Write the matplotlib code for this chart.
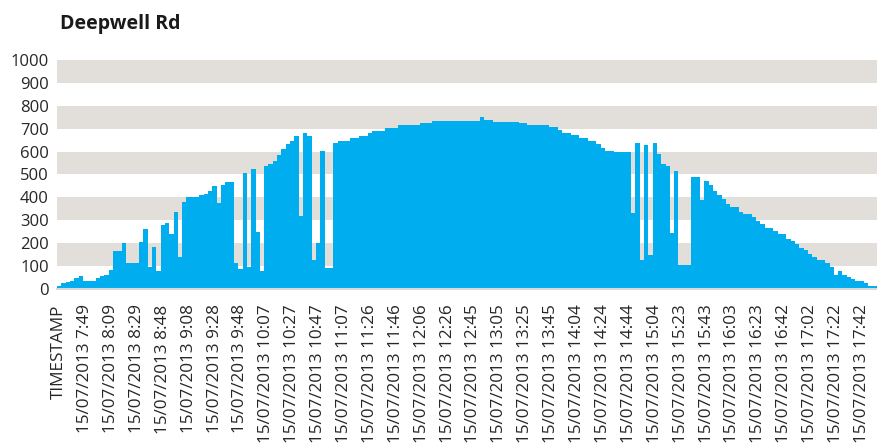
import numpy as np
import matplotlib
matplotlib.use('Agg')
import matplotlib.pyplot as plt

plt.rcParams['font.family'] = ['Open Sans', 'DejaVu Sans']

title = 'Deepwell Rd'

# tick labels, one every 6 readings (first category is the header row)
tick_labels = ['TIMESTAMP',
               '15/07/2013 7:49', '15/07/2013 8:09', '15/07/2013 8:29', '15/07/2013 8:48',
               '15/07/2013 9:08', '15/07/2013 9:28', '15/07/2013 9:48', '15/07/2013 10:07',
               '15/07/2013 10:27', '15/07/2013 10:47', '15/07/2013 11:07', '15/07/2013 11:26',
               '15/07/2013 11:46', '15/07/2013 12:06', '15/07/2013 12:26', '15/07/2013 12:45',
               '15/07/2013 13:05', '15/07/2013 13:25', '15/07/2013 13:45', '15/07/2013 14:04',
               '15/07/2013 14:24', '15/07/2013 14:44', '15/07/2013 15:04', '15/07/2013 15:23',
               '15/07/2013 15:43', '15/07/2013 16:03', '15/07/2013 16:23', '15/07/2013 16:42',
               '15/07/2013 17:02', '15/07/2013 17:22', '15/07/2013 17:42']
label_step = 6

# readings
power = [12, 25, 30, 35, 46, 56, 35, 35, 35, 46,
         55, 61, 85, 165, 165, 199, 112, 112, 112, 206,
         261, 95, 184, 80, 278, 290, 240, 336, 140, 380,
         400, 400, 400, 409, 415, 430, 450, 375, 452, 467,
         467, 112, 88, 505, 95, 525, 250, 80, 539, 546,
         561, 583, 612, 633, 648, 670, 320, 680, 667, 126,
         200, 604, 92, 92, 638, 648, 648, 648, 659, 659,
         670, 670, 680, 691, 691, 691, 703, 703, 703, 714,
         714, 714, 714, 714, 725, 725, 725, 735, 735, 735,
         735, 735, 735, 735, 735, 735, 735, 735, 749, 738,
         738, 728, 728, 728, 728, 728, 728, 725, 725, 717,
         717, 717, 717, 717, 706, 706, 694, 683, 683, 671,
         671, 659, 659, 648, 648, 633, 616, 604, 604, 597,
         597, 597, 597, 330, 636, 126, 630, 150, 636, 590,
         546, 539, 243, 517, 104, 104, 104, 491, 491, 387,
         471, 452, 430, 409, 394, 373, 358, 358, 336, 329,
         329, 314, 297, 283, 268, 268, 252, 239, 239, 218,
         210, 196, 181, 170, 152, 138, 126, 126, 112, 97,
         61, 80, 61, 54, 43, 35, 35, 25, 13, 13]

n = len(power)
fig = plt.figure(figsize=(8.77, 4.48), dpi=100)
ax = fig.add_axes([57 / 877, (448 - 289) / 448, 820 / 877, 229 / 448])

# alternating grey bands
for lo in range(100, 1000, 200):
    ax.axhspan(lo, lo + 100, color='#E2DFDA', lw=0, zorder=0)

ax.stairs(power, np.arange(n + 1) - 0.5, fill=True, color='#00ADEF', lw=0, zorder=2)

ax.set_xlim(-0.5, n - 0.5)
ax.set_ylim(0, 1000)
ax.set_yticks(range(0, 1001, 100))
ax.set_xticks(range(0, n, label_step))
ax.set_xticklabels(tick_labels, rotation=90, ha='center', va='top')
ax.tick_params(axis='both', length=0, labelsize=12, colors='#262626')
ax.tick_params(axis='x', pad=11, labelsize=12.3)
ax.tick_params(axis='y', pad=6)
for s in ['top', 'right', 'left']:
    ax.spines[s].set_visible(False)
ax.spines['bottom'].set_color('#D9D9D9')
ax.spines['bottom'].set_linewidth(1.5)

fig.text(60 / 877, 1 - 29 / 448, title, fontsize=14, fontweight='bold',
         color='#1a1a1a', va='baseline', ha='left')

fig.savefig('out.png', dpi=100)
